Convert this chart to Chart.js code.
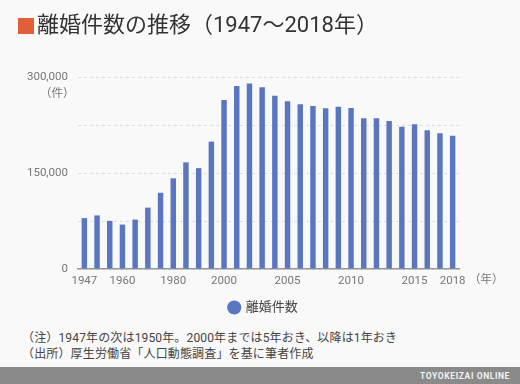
<!DOCTYPE html>
<html>
<head>
<meta charset="utf-8">
<script src="https://cdn.jsdelivr.net/npm/chart.js@4.4.1/dist/chart.umd.min.js"></script>
<style>
  html, body { margin:0; padding:0; background:#f9f9f9; }
  #wrap { position:relative; width:520px; height:384px; overflow:hidden; background:#f9f9f9;
          font-family: Roboto, "Noto Sans CJK JP", sans-serif; }
  #c { position:absolute; left:0; top:0; }
  .abs { position:absolute; white-space:nowrap; }
  #sq { left:18px; top:18px; width:16px; height:16px; background:#e0603a; }
  #title { left:37px; top:10px; font-size:22px; line-height:30px; color:#333; }
  #unitY { left:40px; top:85px; font-size:11.5px; line-height:16px; color:#777; }
  #unitX { left:469px; top:271px; font-size:11.5px; line-height:16px; color:#777; }
  #notes { left:22px; top:331px; font-size:12px; line-height:15.5px; color:#444; letter-spacing:0.15px; }
  #footer { left:0; top:367px; width:520px; height:17px; background:#8a8a8a; }
  #brand { right:10px; top:370px; font-size:8.5px; line-height:12px; font-weight:bold; color:#f2f2f2; letter-spacing:0.6px; }
</style>
</head>
<body>
<div id="wrap">
  <canvas id="c" width="520" height="330"></canvas>
  <div class="abs" id="sq"></div>
  <div class="abs" id="title">離婚件数の推移（1947〜2018年）</div>
  <div class="abs" id="unitY">（件）</div>
  <div class="abs" id="unitX">（年）</div>
  <div class="abs" id="notes">（注）1947年の次は1950年。2000年までは5年おき、以降は1年おき<br>（出所）厚生労働省「人口動態調査」を基に筆者作成</div>
  <div class="abs" id="footer"></div>
  <div class="abs" id="brand">TOYOKEIZAI ONLINE</div>
</div>
<script>
const years = ['1947','1950','1955','1960','1965','1970','1975','1980','1985','1990','1995',
  '2000','2001','2002','2003','2004','2005','2006','2007','2008','2009','2010',
  '2011','2012','2013','2014','2015','2016','2017','2018'];
const divorces = [79551,83689,75267,69410,77195,95937,119135,141689,166640,157608,199016,
  264246,285911,289836,283854,270804,261917,257475,254832,251136,253353,251378,
  235719,235406,231383,222107,226238,216856,212296,208333];
const shownYears = ['1947','1960','1980','2000','2005','2010','2015','2018'];
const shownYTicks = [0,150000,300000];
const seriesName = '離婚件数';

Chart.defaults.font.family = 'Roboto, "Noto Sans CJK JP", sans-serif';
Chart.defaults.animation = false;

const legendShift = {
  id: 'legendShift',
  afterLayout(chart) {
    if (chart.legend) { chart.legend.left -= 5; chart.legend.right -= 5; }
  }
};

new Chart(document.getElementById('c'), {
  type: 'bar',
  data: {
    labels: years,
    datasets: [{
      label: seriesName,
      data: divorces,
      backgroundColor: '#5a76c0',
      borderWidth: 0,
      barPercentage: 0.86,
      categoryPercentage: 0.5
    }]
  },
  plugins: [legendShift],
  options: {
    responsive: false,
    maintainAspectRatio: false,
    layout: { padding: { left: 0, right: 61, top: 77, bottom: 6 } },
    plugins: {
      tooltip: { enabled: false },
      legend: {
        position: 'bottom',
        fullSize: false,
        labels: {
          usePointStyle: true,
          pointStyle: 'circle',
          boxWidth: 10, boxHeight: 10,
          color: '#444',
          font: { size: 13 },
          padding: 10
        }
      }
    },
    scales: {
      x: {
        grid: { display: false, drawTicks: false },
        border: { display: true, color: '#999', width: 1.5 },
        ticks: {
          autoSkip: false, maxRotation: 0, minRotation: 0,
          padding: 5, color: '#777', font: { size: 11.5 },
          callback: function(v, i) { const l = years[i]; return shownYears.includes(l) ? l : ''; }
        },
        afterFit: function(s) { s.height = 22; }
      },
      y: {
        min: 0, max: 300000,
        grid: { color: '#dddddd', drawTicks: false },
        border: { display: false, dash: [3,3] },
        ticks: {
          stepSize: 75000, padding: 10, color: '#777', font: { size: 11.5 },
          callback: function(v) { return shownYTicks.includes(v) ? v.toLocaleString('en-US') : ''; }
        },
        afterFit: function(s) { s.width = 78; }
      }
    }
  }
});
</script>
</body>
</html>
